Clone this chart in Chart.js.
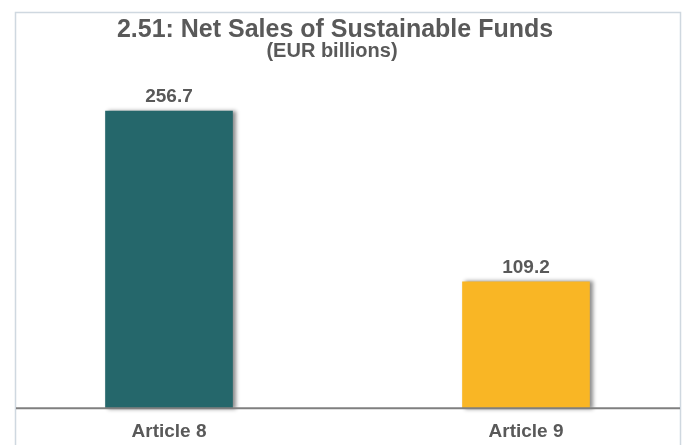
<!DOCTYPE html>
<html>
<head>
<meta charset="utf-8">
<title>2.51: Net Sales of Sustainable Funds</title>
<script src="https://cdn.jsdelivr.net/npm/chart.js@4.4.1/dist/chart.umd.min.js"></script>
<style>
  html, body { margin: 0; padding: 0; background: #ffffff; }
  #wrap { width: 686px; height: 445px; }
</style>
</head>
<body>
<div id="wrap"><canvas id="salesChart" width="686" height="445"></canvas></div>
<script>
// chart values
const categories = ['Article 8', 'Article 9'];
const netSales = [256.7, 109.2];
const barColors = ['#25676b', '#f9b625'];
const chartTitle = '2.51: Net Sales of Sustainable Funds';
const chartSubtitle = '(EUR billions)';

const TEXT_GREY = '#595959';

// frame, titles, bar shadows, value labels and the base line
const decorPlugin = {
    id: 'decor',
    beforeDraw(chart) {
        const ctx = chart.ctx;
        ctx.save();
        ctx.strokeStyle = '#cfd8e0';
        ctx.lineWidth = 1.5;
        ctx.strokeRect(15.5, 12.5, 665, 445);
        ctx.fillStyle = TEXT_GREY;
        ctx.textAlign = 'center';
        ctx.textBaseline = 'alphabetic';
        ctx.font = 'bold 25px "Liberation Sans", Arial, sans-serif';
        ctx.fillText(chartTitle, 335, 37);
        ctx.font = 'bold 20px "Liberation Sans", Arial, sans-serif';
        ctx.fillText(chartSubtitle, 332, 57);
        ctx.restore();
    },
    beforeDatasetsDraw(chart) {
        const ctx = chart.ctx;
        ctx.save();
        ctx.shadowColor = 'rgba(0, 0, 0, 0.45)';
        ctx.shadowBlur = 4;
        ctx.shadowOffsetX = 3;
        ctx.shadowOffsetY = 0;
    },
    afterDatasetsDraw(chart) {
        const ctx = chart.ctx;
        ctx.restore();
        ctx.save();
        // value labels above bars
        const meta = chart.getDatasetMeta(0);
        ctx.fillStyle = TEXT_GREY;
        ctx.font = 'bold 19px "Liberation Sans", Arial, sans-serif';
        ctx.textAlign = 'center';
        ctx.textBaseline = 'alphabetic';
        meta.data.forEach((bar, i) => {
            ctx.fillText(netSales[i].toFixed(1), bar.x, bar.y - 9);
        });
        // base line
        const y = chart.scales.y.getPixelForValue(0);
        ctx.strokeStyle = '#7f7f7f';
        ctx.lineWidth = 2;
        ctx.beginPath();
        ctx.moveTo(16, y);
        ctx.lineTo(680, y);
        ctx.stroke();
        ctx.restore();
    }
};

const ctx = document.getElementById('salesChart').getContext('2d');
new Chart(ctx, {
    type: 'bar',
    data: {
        labels: categories,
        datasets: [{
            data: netSales,
            backgroundColor: barColors,
            borderWidth: 0,
            barThickness: 127,
            clip: false
        }]
    },
    options: {
        responsive: false,
        animation: false,
        layout: {
            padding: { top: 61, left: 169, right: 160, bottom: -10 }
        },
        scales: {
            x: {
                offset: false,
                grid: { display: false, drawTicks: false },
                border: { display: false },
                ticks: {
                    color: TEXT_GREY,
                    padding: 12,
                    font: { family: '"Liberation Sans", Arial, sans-serif', size: 19, weight: 'bold' }
                }
            },
            y: {
                display: false,
                min: 0,
                max: 300
            }
        },
        plugins: {
            legend: { display: false },
            tooltip: { enabled: false },
            title: { display: false }
        }
    },
    plugins: [decorPlugin]
});
</script>
</body>
</html>
